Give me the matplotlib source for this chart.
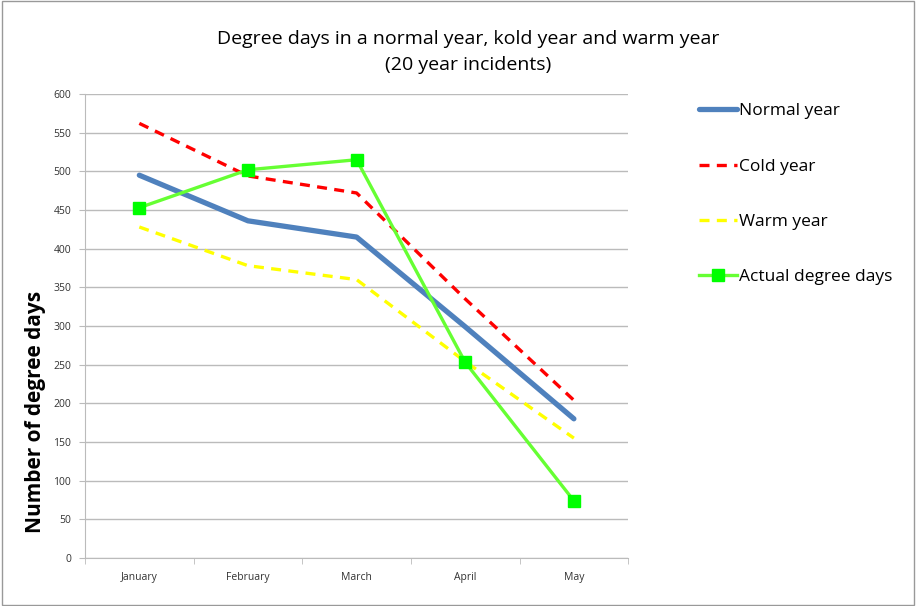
import numpy as np
import matplotlib.pyplot as plt
from matplotlib.patches import Rectangle

plt.rcParams['font.family'] = ['Open Sans', 'DejaVu Sans']

months = ["January", "February", "March", "April", "May"]
normal_year = [495, 436, 415, 299, 180]
cold_year = [562, 494, 472, 335, 204]
warm_year = [428, 378, 360, 254, 155]
actual_days = [453, 502, 515, 253, 74]

fig = plt.figure(figsize=(9.16, 6.06), dpi=100)
ax = fig.add_axes([0.0928, 0.0792, 0.593, 0.7657])

x = np.arange(len(months))
ax.plot(x, normal_year, color="#4F81BD", lw=3.8, solid_capstyle="round", label="Normal year")
ax.plot(x, cold_year, color="#FF0000", lw=2.4, ls=(0, (3, 2.2)), label="Cold year")
ax.plot(x, warm_year, color="#FFFF00", lw=2.4, ls=(0, (3, 2.2)), label="Warm year")
ax.plot(x, actual_days, color="#66FF33", lw=2.4, marker="s", markersize=9,
        markerfacecolor="#00FF00", markeredgecolor="#00FF00", label="Actual degree days")

ax.set_xlim(-0.5, 4.5)
ax.set_ylim(0, 600)
ax.set_yticks(range(0, 601, 50))
ax.set_xticks(x)
ax.set_xticklabels(months)
ax.set_xticks(np.arange(-0.5, 4.6, 1), minor=True)
ax.tick_params(axis="x", which="major", length=0, labelsize=7.5, pad=10, colors="#333333")
ax.tick_params(axis="x", which="minor", length=4, color="#BBBBBB")
ax.tick_params(axis="y", length=4, color="#BBBBBB", labelsize=7.5, labelcolor="#333333", pad=6)
ax.grid(axis="y", color="#BBBBBB", lw=1)
ax.set_axisbelow(True)
for s in ["top", "right"]:
    ax.spines[s].set_visible(False)
for s in ["left", "bottom"]:
    ax.spines[s].set_color("#BBBBBB")

ax.set_ylabel("Number of degree days", fontsize=15, fontweight="bold")
ax.yaxis.set_label_coords(-0.072, 0.315)
fig.text(0.511, 0.935, "Degree days in a normal year, kold year and warm year",
         ha="center", va="center", fontsize=14)
fig.text(0.511, 0.892, "(20 year incidents)", ha="center", va="center", fontsize=14)

ax.legend(loc="upper left", bbox_to_anchor=(1.118, 0.995), frameon=False, fontsize=12.5,
          handlelength=2.2, handletextpad=0.1, labelspacing=2.25, borderaxespad=0)

fig.patches.append(Rectangle((0.002, 0.002), 0.996, 0.996, transform=fig.transFigure,
                             fill=False, edgecolor="#999999", lw=1))

fig.savefig("out.png", dpi=100)
